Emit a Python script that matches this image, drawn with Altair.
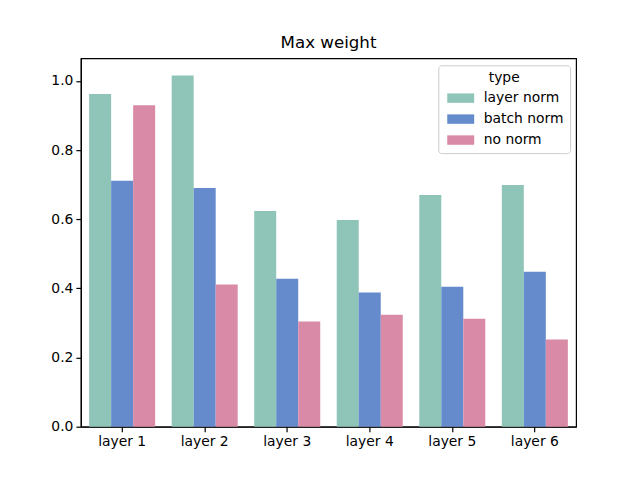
import altair as alt
import pandas as pd

layers = ["layer 1", "layer 2", "layer 3", "layer 4", "layer 5", "layer 6"]
types = ["layer norm", "batch norm", "no norm"]
layer_norm = [0.962, 1.016, 0.624, 0.598, 0.670, 0.699]
batch_norm = [0.711, 0.690, 0.428, 0.388, 0.405, 0.448]
no_norm = [0.930, 0.411, 0.304, 0.324, 0.312, 0.252]
colors = ["#8fc5b8", "#658bcc", "#d98aa6"]

rows = []
for t, vals in zip(types, [layer_norm, batch_norm, no_norm]):
    for l, v in zip(layers, vals):
        rows.append({"layer": l, "type": t, "value": v})
df = pd.DataFrame(rows)

FONT = "DejaVu Sans"

chart = alt.Chart(df).mark_bar().encode(
    x=alt.X("layer:N", sort=layers, title=None,
            scale=alt.Scale(paddingInner=0.2, paddingOuter=0.1),
            axis=alt.Axis(labelAngle=0, ticks=True, tickSize=5, tickColor="black",
                          domainColor="black", labelColor="black", labelFontSize=13.9,
                          labelFont=FONT, labelPadding=3, grid=False)),
    xOffset=alt.XOffset("type:N", sort=types, scale=alt.Scale(paddingInner=0, paddingOuter=0)),
    y=alt.Y("value:Q", title=None,
            scale=alt.Scale(domain=[0, 1.0655], nice=False, zero=True),
            axis=alt.Axis(values=[0, 0.2, 0.4, 0.6, 0.8, 1.0], format=".1f", tickSize=5,
                          tickColor="black", domainColor="black", labelColor="black",
                          labelFontSize=13.9, labelFont=FONT, labelPadding=3, grid=False)),
    color=alt.Color("type:N", sort=types,
                    scale=alt.Scale(domain=types, range=colors),
                    legend=alt.Legend(
                        title="type", orient="none", legendX=358, legendY=7,
                        titleAnchor="middle", titleFont=FONT, titleFontSize=13.9,
                        titleFontWeight="normal", titleColor="black", titlePadding=6,
                        labelFont=FONT, labelFontSize=13.9, labelColor="black",
                        symbolType="M-0.6,-0.7H3.4V0.7H-0.6Z", symbolSize=182,
                        symbolStrokeWidth=0, symbolOpacity=1,
                        labelOffset=25.5, rowPadding=7, padding=6,
                        fillColor="white", strokeColor="#cccccc", cornerRadius=3)),
).properties(
    width=496, height=369,
    title=alt.TitleParams("Max weight", font=FONT, fontSize=16.7, fontWeight="normal",
                          color="black", anchor="middle", offset=7),
    autosize=alt.AutoSizeParams(type="none"),
    padding={"left": 73, "top": 50, "right": 56, "bottom": 45},
).configure_view(stroke="black", strokeWidth=1.2).configure_axis(domainWidth=1.2, tickWidth=1.2)

chart.save("out.html", embed_options={"renderer": "svg", "actions": False})
